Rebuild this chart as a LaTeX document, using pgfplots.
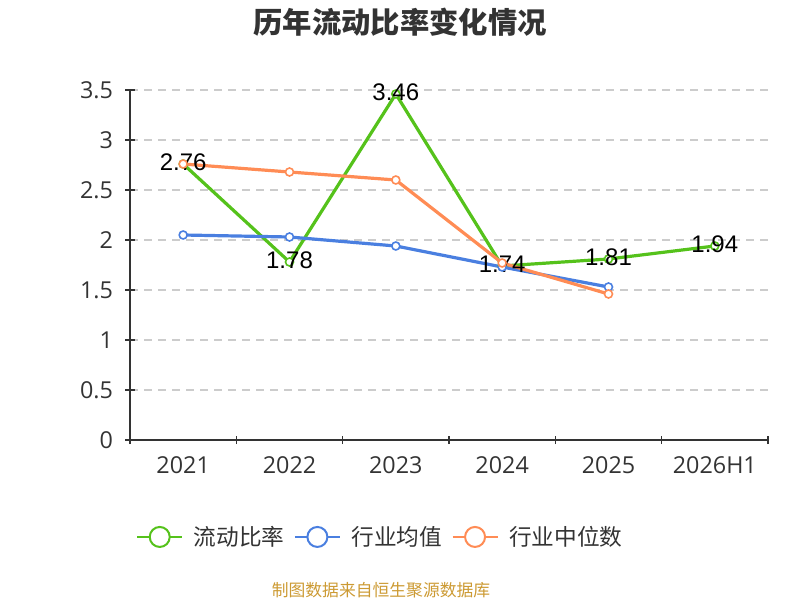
\documentclass[border=0pt]{standalone}
\usepackage{pgfplots}
\pgfplotsset{compat=1.18}
\usepackage{fontspec}
\setmainfont{Open Sans}
\newfontfamily\cjk{Noto Sans CJK SC}
\newfontfamily\lab{Liberation Sans}
\definecolor{cg}{HTML}{55C21B}
\definecolor{cb}{HTML}{4A7FE0}
\definecolor{co}{HTML}{FF8C55}
\definecolor{ct}{HTML}{333333}
\definecolor{cgrid}{HTML}{CCCCCC}
\definecolor{cgold}{HTML}{CC9A33}
\begin{document}
\begin{tikzpicture}[x=1pt,y=1pt]
\path (0,0) rectangle (600,450);
\node[font=\cjk\bfseries\fontsize{22}{26}\selectfont, text=ct] at (300,433.5) {历年流动比率变化情况};
\begin{axis}[
  at={(97.5pt,120pt)}, anchor=south west, scale only axis,
  width=478.5pt, height=262.5pt,
  xmin=-0.5, xmax=5.5, ymin=0, ymax=3.5,
  ytick={0,0.5,...,3.5},
  xtick={0,...,5},
  xticklabels={2021,2022,2023,2024,2025,2026H1},
  minor xtick={-0.5,0.5,...,5.5},
  major x tick style={draw=none},
  tick align=outside,
  major tick length=7.5pt,
  minor tick length=6pt,
  axis x line=bottom, axis y line=left,
  axis line style={draw=ct, line width=1.5pt, -},
  tick style={draw=ct, line width=1.2pt},
  ymajorgrids,
  major grid style={draw=cgrid, line width=0.9pt, dash pattern=on 6pt off 4.5pt},
  /pgf/number format/assume math mode=true,
  tick label style={font=\fontsize{17.5}{20}\selectfont, text=ct},
  yticklabel style={xshift=-5.5pt},
  xticklabel style={yshift=-5pt},
  legend style={at={(0.393,-0.277)}, anchor=center, draw=none, fill=none,
    font=\cjk\fontsize{17}{20}\selectfont, text=ct,
    /tikz/every odd column/.append style={column sep=6pt},
    /tikz/every even column/.append style={column sep=5pt}},
  legend columns=3,
  every axis plot/.append style={line width=2.4pt, mark=*, mark size=3pt,
    mark options={fill=white, line width=1.2pt}},
]
\addplot[cg, nodes near coords,
  every node near coord/.append style={anchor=center, yshift=1.5pt,
    font=\lab\fontsize{18}{20}\selectfont, text=black},
  legend image code/.code={\draw[cg, line width=1.5pt] (0pt,0pt) -- (33.75pt,0pt);
    \draw[cg, fill=white, line width=1.5pt] (16.875pt,0pt) circle (7.5pt);}]
  coordinates {(0,2.76) (1,1.78) (2,3.46) (3,1.74) (4,1.81) (5,1.94)};
\addlegendentry{流动比率}
\addplot[cb,
  legend image code/.code={\draw[cb, line width=1.5pt] (0pt,0pt) -- (33.75pt,0pt);
    \draw[cb, fill=white, line width=1.5pt] (16.875pt,0pt) circle (7.5pt);}]
  coordinates {(0,2.05) (1,2.03) (2,1.94) (3,1.73) (4,1.53)};
\addlegendentry{行业均值}
\addplot[co,
  legend image code/.code={\draw[co, line width=1.5pt] (0pt,0pt) -- (33.75pt,0pt);
    \draw[co, fill=white, line width=1.5pt] (16.875pt,0pt) circle (7.5pt);}]
  coordinates {(0,2.76) (1,2.68) (2,2.60) (3,1.77) (4,1.46)};
\addlegendentry{行业中位数}
\end{axis}
\node[font=\cjk\fontsize{12.6}{15}\selectfont, text=cgold] at (285.75,7.5) {制图数据来自恒生聚源数据库};
\end{tikzpicture}
\end{document}
